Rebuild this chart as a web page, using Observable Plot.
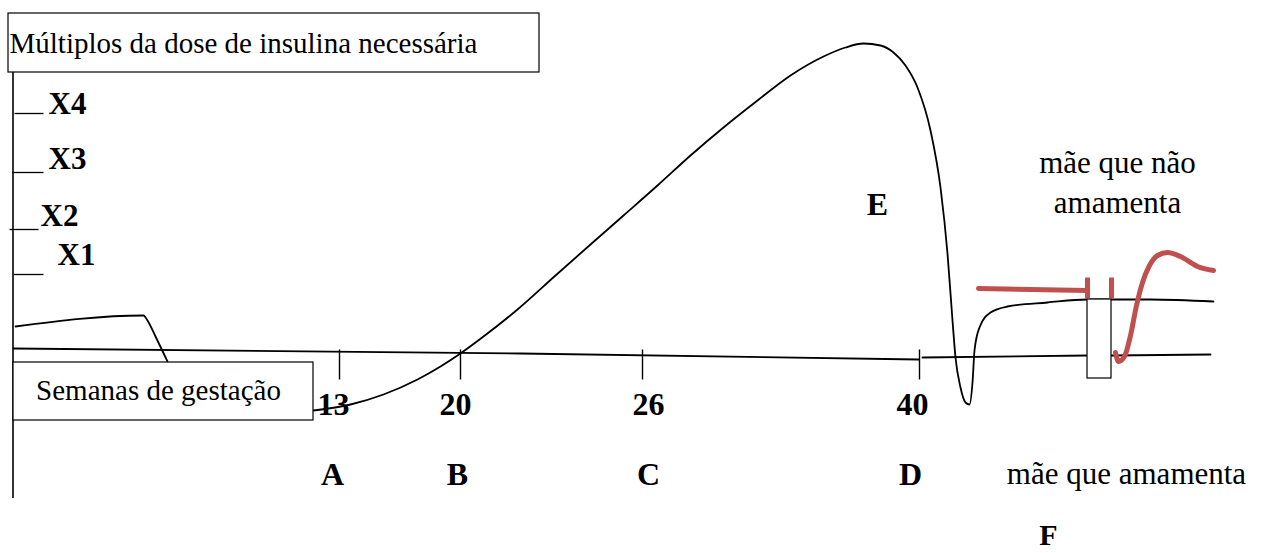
<!DOCTYPE html>
<html><head><meta charset="utf-8">
<script src="https://cdn.jsdelivr.net/npm/d3@7"></script>
<script src="https://cdn.jsdelivr.net/npm/@observablehq/plot@0.6"></script>
<style>html,body{margin:0;padding:0;background:#fff;} svg{display:block;}</style>
</head><body><div id="chart"></div>
<script>
// Diagram coordinates
const yTickLabels = ["X4", "X3", "X2", "X1"];
const yTickLabelX = [48, 48, 40, 57];
const yTickLabelY = [104, 159, 216, 255];
const yTickLineX1 = [14, 12, 9, 13];
const yTickLineX2 = [43, 43, 38, 43];
const yTickLineY = [113, 172, 229, 274];

const weekLabels = ["13", "20", "26", "40"];
const weekTickX = [339, 460, 642, 919];
const weekLabelX = [333, 455, 648, 912];
const phaseLabels = ["A", "B", "C", "D"];
const phaseLabelX = [332, 457, 648, 910];

// main curve (insulin requirement)
const mainX = [313, 350, 383, 417, 440, 457, 483, 517, 555, 590, 623, 657, 690, 723, 757, 790, 823, 845, 863, 880, 893, 905, 917, 930, 940, 947, 952, 955, 960, 965, 969, 972, 974, 979, 990, 1007, 1047, 1087, 1150, 1213];
const mainY = [410, 404, 394, 379, 366, 355, 336, 309, 275, 244, 215, 185, 155, 127, 100, 75, 56, 47, 43, 45, 52, 65, 87, 130, 187, 253, 320, 357, 387, 402, 404, 382, 350, 327, 312, 306, 302, 299, 299, 301];
// early small curve
const earlyX = [15, 143, 147, 155, 167];
const earlyY = [326, 315, 320, 336, 361];
// baseline
const baseX = [13, 520, 918];
const baseY = [348, 353, 359];
const base2X = [922, 1087];
const base2Y = [357, 355];
const base3X = [1111, 1210];
const base3Y = [355, 354];
// red: non-breastfeeding mother
const redLineX = [978, 1087];
const redLineY = [288, 290];
const redCurveX = [1115, 1118, 1124, 1130, 1136, 1142, 1149, 1157, 1167, 1180, 1197, 1213];
const redCurveY = [352, 361, 356, 335, 305, 282, 265, 255, 252, 256, 266, 270];
const redBarsX = [1087, 1111];

const font = "Liberation Serif, Times New Roman, serif";
const pts = (xs, ys) => xs.map((x, i) => ({x, y: ys[i]}));

const plot = Plot.plot({
  width: 1264, height: 553,
  margin: 0,
  x: {domain: [0, 1264], axis: null},
  y: {domain: [553, 0], axis: null},
  style: {fontFamily: font, background: "#fff"},
  marks: [
    // y axis line
    Plot.ruleX([12.5], {y1: 72, y2: 498, stroke: "#000", strokeWidth: 1.6}),
    // y ticks
    Plot.link(yTickLineY.map((y, i) => ({x1: yTickLineX1[i], x2: yTickLineX2[i], y})),
      {x1: "x1", x2: "x2", y1: "y", y2: "y", stroke: "#000", strokeWidth: 1.3}),
    // baselines
    Plot.line(pts(baseX, baseY), {x: "x", y: "y", stroke: "#000", strokeWidth: 1.8}),
    Plot.line(pts(base2X, base2Y), {x: "x", y: "y", stroke: "#000", strokeWidth: 1.8}),
    Plot.line(pts(base3X, base3Y), {x: "x", y: "y", stroke: "#000", strokeWidth: 1.8}),
    // week ticks
    Plot.link(weekTickX.map(x => ({x})), {x1: "x", x2: "x", y1: 349, y2: 379, stroke: "#000", strokeWidth: 1.4}),
    // curves
    Plot.line(pts(earlyX, earlyY), {x: "x", y: "y", curve: "monotone-x", stroke: "#000", strokeWidth: 1.8}),
    Plot.line(pts(mainX, mainY), {x: "x", y: "y", curve: "monotone-x", stroke: "#000", strokeWidth: 1.8}),
    // boxes
    Plot.rect([{x1: 8, x2: 539, y1: 13, y2: 72}], {x1: "x1", x2: "x2", y1: "y1", y2: "y2", fill: "#fff", stroke: "#000", strokeWidth: 1.2}),
    Plot.rect([{x1: 13, x2: 313, y1: 362, y2: 420}], {x1: "x1", x2: "x2", y1: "y1", y2: "y2", fill: "#fff", stroke: "#000", strokeWidth: 1.2}),
    Plot.rect([{x1: 1087, x2: 1111, y1: 299, y2: 378}], {x1: "x1", x2: "x2", y1: "y1", y2: "y2", fill: "#fff", stroke: "#000", strokeWidth: 1.2}),
    // red
    Plot.line(pts(redLineX, redLineY), {x: "x", y: "y", stroke: "#c0504d", strokeWidth: 5}),
    Plot.link(redBarsX.map(x => ({x})), {x1: "x", x2: "x", y1: 277, y2: 298, stroke: "#c0504d", strokeWidth: 5}),
    Plot.line(pts(redCurveX, redCurveY), {x: "x", y: "y", curve: "monotone-x", stroke: "#c0504d", strokeWidth: 5, strokeLinecap: "round"}),
    // texts
    Plot.text(["Múltiplos da dose de insulina necessária"], {x: 9, y: 43, textAnchor: "start", fontSize: 29, fill: "#000"}),
    Plot.text(yTickLabels, {x: (d, i) => yTickLabelX[i], y: (d, i) => yTickLabelY[i], text: d => d, textAnchor: "start", fontSize: 31, fontWeight: "bold", fill: "#000"}),
    Plot.text(["Semanas de gestação"], {x: 158, y: 390, fontSize: 29, fill: "#000"}),
    Plot.text(weekLabels, {x: (d, i) => weekLabelX[i], y: 404, text: d => d, fontSize: 32, fontWeight: "bold", fill: "#000"}),
    Plot.text(phaseLabels, {x: (d, i) => phaseLabelX[i], y: 474, text: d => d, fontSize: 32, fontWeight: "bold", fill: "#000"}),
    Plot.text(["E"], {x: 877, y: 204, fontSize: 32, fontWeight: "bold", fill: "#000"}),
    Plot.text(["mãe que não", "amamenta"], {x: 1117, y: (d, i) => [163, 203][i], text: d => d, fontSize: 31, fill: "#000"}),
    Plot.text(["mãe que amamenta"], {x: 1126, y: 474, fontSize: 31, fill: "#000"}),
    Plot.text(["F"], {x: 1048, y: 535, fontSize: 30, fontWeight: "bold", fill: "#000"})
  ]
});
document.getElementById("chart").appendChild(plot);
</script>
</body></html>
